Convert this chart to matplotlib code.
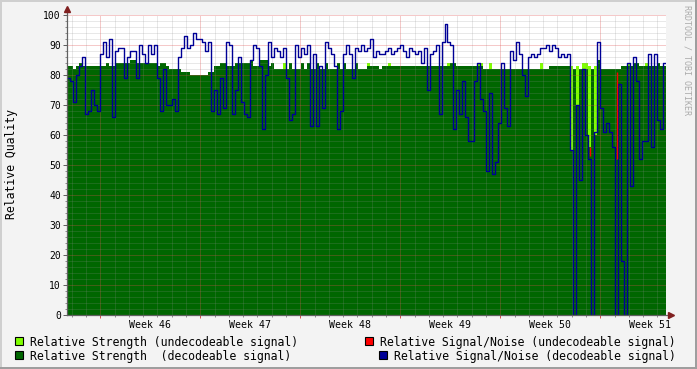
# rrd-style quality graph (6 weeks)
import numpy as np
import matplotlib.pyplot as plt
import matplotlib.dates as mdates
from matplotlib.ticker import MultipleLocator, NullFormatter
from matplotlib.patches import Rectangle
from datetime import datetime, timedelta

plt.rcParams['font.family'] = ['DejaVu Sans Mono']

# one sample ~ 5h, 200 samples
start = datetime(2010, 11, 12, 16, 0)
step = timedelta(minutes=302)
span = timedelta(days=41.93)

# relative strength, decodeable signal
strength_dec = [
    83, 83, 82, 83, 84, 83, 83, 83, 83, 83,
    83, 83, 83, 84, 83, 83, 84, 84, 84, 84,
    84, 85, 85, 84, 84, 84, 84, 84, 84, 84,
    83, 84, 84, 83, 82, 82, 82, 82, 81, 81,
    81, 80, 80, 80, 80, 80, 80, 81, 81, 83,
    83, 84, 84, 83, 83, 83, 84, 84, 84, 84,
    84, 85, 83, 83, 85, 85, 85, 83, 84, 82,
    82, 82, 82, 82, 84, 82, 82, 82, 84, 82,
    84, 82, 82, 84, 82, 82, 84, 82, 82, 82,
    84, 82, 84, 82, 82, 82, 84, 82, 82, 82,
    83, 83, 83, 83, 82, 83, 83, 83, 83, 83,
    83, 83, 83, 83, 83, 83, 83, 83, 83, 83,
    83, 83, 83, 83, 83, 83, 83, 83, 84, 84,
    83, 83, 83, 83, 83, 83, 83, 83, 83, 82,
    82, 82, 82, 82, 82, 82, 82, 82, 82, 82,
    82, 82, 82, 82, 82, 82, 82, 82, 82, 82,
    82, 83, 83, 83, 83, 83, 83, 83, 55, 82,
    70, 82, 82, 82, 56, 82, 60, 85, 82, 82,
    82, 82, 82, 82, 82, 83, 83, 83, 83, 84,
    84, 83, 83, 83, 83, 83, 83, 84, 83, 83,
]

# relative strength, undecodeable signal (only a few samples)
strength_undec_idx = [72, 100, 107, 127, 137, 138, 141, 158,
                      168, 170, 172, 173, 174, 176, 187, 193]
strength_undec_val = [84, 84, 84, 84, 84, 84, 84, 84,
                      83, 83, 84, 84, 83, 83, 84, 84]

# relative signal/noise, decodeable signal
snr_dec = [
    79, 78, 71, 80, 83, 86, 67, 68, 75, 70,
    68, 87, 91, 86, 92, 66, 88, 89, 89, 79,
    86, 88, 88, 79, 90, 87, 84, 90, 87, 90,
    79, 68, 82, 70, 70, 72, 68, 86, 89, 93,
    89, 90, 94, 92, 92, 91, 88, 91, 68, 75,
    67, 79, 69, 91, 90, 67, 75, 86, 71, 67,
    66, 85, 90, 89, 83, 62, 80, 91, 86, 89,
    88, 86, 89, 79, 65, 67, 90, 86, 89, 87,
    90, 63, 87, 63, 83, 69, 91, 89, 87, 83,
    62, 68, 87, 90, 87, 79, 89, 88, 90, 88,
    89, 92, 86, 88, 87, 87, 88, 89, 87, 88,
    89, 90, 88, 86, 89, 88, 87, 88, 84, 89,
    75, 87, 88, 90, 67, 91, 97, 91, 90, 62,
    75, 67, 78, 66, 58, 58, 78, 84, 72, 68,
    48, 74, 47, 51, 64, 84, 69, 63, 88, 85,
    91, 87, 80, 73, 86, 87, 86, 87, 89, 89,
    90, 88, 90, 89, 86, 87, 86, 87, 55, 0,
    70, 45, 82, 60, 52, 0, 61, 91, 69, 61,
    64, 61, 56, 0, 77, 18, 0, 84, 43, 86,
    78, 52, 58, 58, 87, 56, 87, 65, 62, 84,
]

# relative signal/noise, undecodeable signal (min/max within sample)
snr_undec_idx = [174, 183]
snr_undec_lo = [53, 52]
snr_undec_hi = [56, 81]

legend_labels = [
    'Relative Strength (undecodeable signal)',
    'Relative Strength  (decodeable signal)',
    'Relative Signal/Noise (undecodeable signal)',
    'Relative Signal/Noise (decodeable signal)',
]

# rrdtool colours
BACK = '#F3F3F3'
C_UNDEC = '#80FF00'
C_DEC = '#006600'
C_SNR = '#000096'
C_SNR_UNDEC = '#FF0000'
GRIDC = '#8F8F8F'
MGRID = '#DE4F4F'
AXIS = '#606060'
ARROW = '#802020'

n = len(snr_dec)
t = mdates.date2num([start + i * step for i in range(n)])
dt = step / timedelta(days=1)
x_edges = np.append(t, t[-1] + dt)


def ext(v):
    v = np.asarray(v, dtype=float)
    return np.append(v, v[-1])


undec = np.zeros(n)
undec[strength_undec_idx] = strength_undec_val

fig = plt.figure(figsize=(6.97, 3.69), dpi=100, facecolor=BACK)
W, H = 697, 369
ax = fig.add_axes([67 / W, 54 / H, 599 / W, 300 / H])
ax.set_facecolor('white')

ax.fill_between(x_edges, 0, ext(undec), step='post', color=C_UNDEC, lw=0, zorder=1)
ax.fill_between(x_edges, 0, ext(strength_dec), step='post', color=C_DEC, lw=0, zorder=1.1)
ax.plot(x_edges, ext(snr_dec), drawstyle='steps-post', color=C_SNR, lw=1.0, zorder=3)
ax.vlines(t[snr_undec_idx] + dt / 2, snr_undec_lo, snr_undec_hi,
          color=C_SNR_UNDEC, lw=1.0, zorder=3.1)

t0 = mdates.date2num(start)
ax.set_xlim(t0, t0 + span / timedelta(days=1))
ax.set_ylim(0, 100)

# grid
ax.xaxis.set_major_locator(mdates.WeekdayLocator(byweekday=mdates.MO))
ax.xaxis.set_minor_locator(mdates.DayLocator())
ax.xaxis.set_major_formatter(NullFormatter())
ax.yaxis.set_major_locator(MultipleLocator(10))
ax.yaxis.set_minor_locator(MultipleLocator(2))
ax.set_axisbelow(False)
ax.grid(which='minor', color=GRIDC, alpha=0.4, lw=0.72, ls=(0, (1, 1)))
ax.grid(which='major', color=MGRID, alpha=0.6, lw=0.72, ls=(0, (1, 1)))

ax.tick_params(axis='x', which='major', length=2.5, width=0.72, color=MGRID)
ax.tick_params(axis='x', which='minor', length=1.5, width=0.72, color=GRIDC)
ax.tick_params(axis='y', which='major', length=3, width=0.72, color=AXIS,
               pad=1.5, labelsize=7)
ax.tick_params(axis='y', which='minor', length=1.5, width=0.72, color=GRIDC)

for s in ['top', 'right', 'bottom', 'left']:
    ax.spines[s].set_visible(False)

# axes with arrows
ax.plot([0, 0], [0, 1 + 6 / 300], transform=ax.transAxes, color=AXIS,
        lw=0.9, clip_on=False, zorder=4)
ax.plot([0, 1 + 4 / 599], [0, 0], transform=ax.transAxes, color=AXIS,
        lw=0.9, clip_on=False, zorder=4)
ax.plot([0], [1 + 6 / 300], marker='^', ms=4.5, color=ARROW, mec=ARROW,
        transform=ax.transAxes, clip_on=False, zorder=5)
ax.plot([1 + 5 / 599], [0], marker='>', ms=4.5, color=ARROW, mec=ARROW,
        transform=ax.transAxes, clip_on=False, zorder=5)

# week labels centred in each week
for m in ax.xaxis.get_majorticklocs():
    mid = m + 3.5
    if mid < ax.get_xlim()[1]:
        wk = mdates.num2date(m).isocalendar()[1]
        ax.text(mid, -4.5, f'Week {wk}', ha='center', va='baseline',
                fontsize=7.1, clip_on=False)

fig.text(12 / W, 1 - 164 / H, 'Relative Quality', rotation=90, ha='center',
         va='center', fontsize=8.3)
fig.text(687 / W, 1 - 60 / H, 'RRDTOOL / TOBI OETIKER', rotation=270,
         ha='center', va='center', fontsize=6, color='#ABABAB')

# legend
leg = [(15, 337, C_UNDEC, 30, legend_labels[0]),
       (15, 351, C_DEC, 30, legend_labels[1]),
       (365, 337, C_SNR_UNDEC, 380, legend_labels[2]),
       (379, 351, C_SNR, 394, legend_labels[3])]
for bx, by, col, tx, lab in leg:
    fig.patches.append(Rectangle((bx / W, 1 - (by + 8) / H), 8 / W, 8 / H,
                                 transform=fig.transFigure, facecolor=col,
                                 edgecolor='black', lw=0.8))
    fig.text(tx / W, 1 - (by + 8.6) / H, lab, ha='left', va='baseline',
             fontsize=8.3)

# frame shading
fig.patches.append(Rectangle((0, 1 - 2 / H), 1, 2 / H, transform=fig.transFigure,
                             facecolor='#CFCFCF', lw=0))
fig.patches.append(Rectangle((0, 0), 2 / W, 1, transform=fig.transFigure,
                             facecolor='#CFCFCF', lw=0))
fig.patches.append(Rectangle((0, 0), 1, 2 / H, transform=fig.transFigure,
                             facecolor='#9E9E9E', lw=0))
fig.patches.append(Rectangle((1 - 2 / W, 0), 2 / W, 1, transform=fig.transFigure,
                             facecolor='#9E9E9E', lw=0))

fig.savefig('out.png', dpi=100, facecolor=BACK)
